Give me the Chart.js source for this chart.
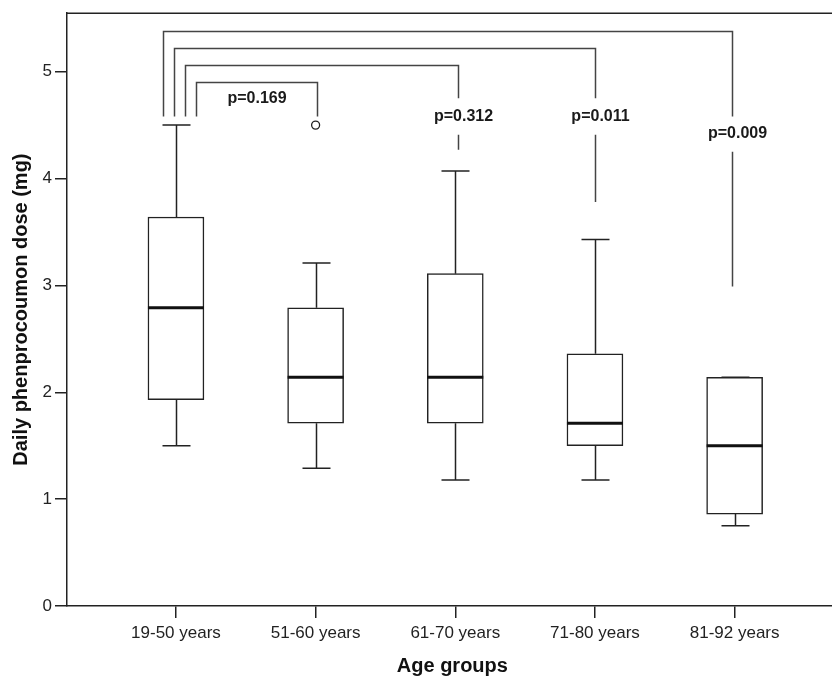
<!DOCTYPE html>
<html>
<head>
<meta charset="utf-8">
<script src="https://cdn.jsdelivr.net/npm/chart.js@4.4.1/dist/chart.umd.min.js"></script>
<style>
  html, body { margin: 0; padding: 0; background: #fff; overflow: hidden; }
  canvas { display: block; }
</style>
</head>
<body>
<canvas id="myChart" width="843" height="680"></canvas>
<script>
// box plot values
const groups = ['19-50 years', '51-60 years', '61-70 years', '71-80 years', '81-92 years'];
const whiskerLow = [1.5, 1.29, 1.18, 1.18, 0.75];
const q1 = [1.93, 1.71, 1.71, 1.5, 0.86];
const median = [2.79, 2.14, 2.14, 1.71, 1.5];
const q3 = [3.64, 2.79, 3.11, 2.36, 2.14];
const whiskerHigh = [4.5, 3.21, 4.07, 3.43, 2.14];
const outlierGroup = [2];
const outlierValue = [4.5];
const yTicks = [0, 1, 2, 3, 4, 5];
// group 1 compared with groups 2..5
const pLabels = ['p=0.169', 'p=0.312', 'p=0.011', 'p=0.009'];

const LINE = '#222';
const FONT = "'Liberation Sans', Arial, sans-serif";

const boxData = groups.map((g, i) => ({ x: i + 1, y: [q1[i], q3[i]] }));
const outlierData = outlierGroup.map((g, i) => ({ x: g, y: outlierValue[i] }));

// whiskers + medians + brackets
const boxExtras = {
    id: 'boxExtras',
    beforeDatasetsDraw(chart) {
        const ctx = chart.ctx;
        const xs = chart.scales.x, ys = chart.scales.y;
        ctx.save();
        ctx.strokeStyle = LINE;
        ctx.lineWidth = 1.5;
        groups.forEach((g, i) => {
            const cx = Math.round(xs.getPixelForValue(i + 1)) + 0.5;
            ctx.beginPath();
            ctx.moveTo(cx, ys.getPixelForValue(q3[i]));
            ctx.lineTo(cx, ys.getPixelForValue(whiskerHigh[i]));
            ctx.moveTo(cx, ys.getPixelForValue(q1[i]));
            ctx.lineTo(cx, ys.getPixelForValue(whiskerLow[i]));
            ctx.moveTo(cx - 14, ys.getPixelForValue(whiskerHigh[i]));
            ctx.lineTo(cx + 14, ys.getPixelForValue(whiskerHigh[i]));
            ctx.moveTo(cx - 14, ys.getPixelForValue(whiskerLow[i]));
            ctx.lineTo(cx + 14, ys.getPixelForValue(whiskerLow[i]));
            ctx.stroke();
        });
        ctx.restore();
    },
    afterDatasetsDraw(chart) {
        const ctx = chart.ctx;
        const xs = chart.scales.x, ys = chart.scales.y;
        const area = chart.chartArea;
        ctx.save();
        // medians
        ctx.strokeStyle = '#111';
        ctx.lineWidth = 3;
        groups.forEach((g, i) => {
            const cx = xs.getPixelForValue(i + 1);
            const my = ys.getPixelForValue(median[i]);
            ctx.beginPath();
            ctx.moveTo(cx - 28, my);
            ctx.lineTo(cx + 28, my);
            ctx.stroke();
        });

        // frame top line
        ctx.strokeStyle = LINE;
        ctx.lineWidth = 1.5;
        ctx.beginPath();
        ctx.moveTo(area.left, area.top);
        ctx.lineTo(area.right, area.top);
        ctx.stroke();

        // significance brackets
        const levels = [4.905, 5.064, 5.223, 5.382];
        const rightShift = [1, 3, 0, -3];
        const upperEnd = [4.58, 4.75, 4.75, 4.58];
        const lower = [null, [4.41, 4.27], [4.41, 3.78], [4.25, 2.99]];
        const labelY = [4.75, 4.577, 4.577, 4.42];
        const x1 = xs.getPixelForValue(1);
        ctx.strokeStyle = '#444';
        ctx.lineWidth = 1.5;
        ctx.fillStyle = '#1a1a1a';
        ctx.font = 'bold 16px ' + FONT;
        ctx.textAlign = 'center';
        ctx.textBaseline = 'middle';
        pLabels.forEach((p, i) => {
            const lx = Math.round(x1 + 20 - 11 * i) + 0.5;
            const rx = Math.round(xs.getPixelForValue(i + 2) + rightShift[i]) + 0.5;
            const ly = Math.round(ys.getPixelForValue(levels[i])) + 0.5;
            ctx.beginPath();
            ctx.moveTo(lx, ys.getPixelForValue(4.58));
            ctx.lineTo(lx, ly);
            ctx.lineTo(rx, ly);
            ctx.lineTo(rx, ys.getPixelForValue(upperEnd[i]));
            if (lower[i]) {
                ctx.moveTo(rx, ys.getPixelForValue(lower[i][0]));
                ctx.lineTo(rx, ys.getPixelForValue(lower[i][1]));
            }
            ctx.stroke();
            const tx = i === 0 ? (lx + rx) / 2 : rx + 5;
            ctx.fillText(p, tx, ys.getPixelForValue(labelY[i]));
        });
        ctx.restore();
    }
};

const ctx = document.getElementById('myChart').getContext('2d');
const myChart = new Chart(ctx, {
    type: 'bar',
    data: {
        datasets: [{
            data: boxData,
            backgroundColor: '#fff',
            borderColor: LINE,
            borderWidth: 1.5,
            borderSkipped: false,
            barThickness: 56
        }, {
            type: 'scatter',
            data: outlierData,
            pointRadius: 4,
            pointBackgroundColor: '#fff',
            pointBorderColor: LINE,
            pointBorderWidth: 1.3
        }]
    },
    options: {
        responsive: false,
        animation: false,
        layout: { padding: { top: 13, left: 0, right: 0, bottom: 0 } },
        plugins: { legend: { display: false }, tooltip: { enabled: false } },
        scales: {
            x: {
                type: 'linear',
                min: 0.22,
                max: 5.738,
                offset: false,
                afterBuildTicks: (scale) => { scale.ticks = groups.map((g, i) => ({ value: i + 1 })); },
                afterFit: (scale) => { scale.height = 74; },
                ticks: {
                    callback: (v) => groups[v - 1],
                    font: { family: FONT, size: 17 },
                    color: '#222',
                    padding: 5,
                    maxRotation: 0,
                    autoSkip: false
                },
                grid: { offset: false, drawOnChartArea: false, drawTicks: true, tickLength: 12, color: LINE, lineWidth: 1.5 },
                border: { display: true, color: LINE, width: 1.5 },
                title: {
                    display: true,
                    text: 'Age groups',
                    font: { family: FONT, size: 20, weight: 'bold' },
                    color: '#111',
                    padding: { top: 0, bottom: 2 }
                }
            },
            y: {
                min: 0,
                max: 5.547,
                afterBuildTicks: (scale) => { scale.ticks = yTicks.map(v => ({ value: v })); },
                afterFit: (scale) => { scale.width = 67; },
                ticks: {
                    font: { family: FONT, size: 17 },
                    color: '#222',
                    padding: 3
                },
                grid: { drawOnChartArea: false, drawTicks: true, tickLength: 12, color: LINE, lineWidth: 1.5 },
                border: { display: true, color: LINE, width: 1.5 },
                title: {
                    display: true,
                    text: 'Daily phenprocoumon dose (mg)',
                    font: { family: FONT, size: 20, weight: 'bold' },
                    color: '#111',
                    padding: { top: 9, bottom: 0 }
                }
            }
        }
    },
    plugins: [boxExtras]
});
</script>
</body>
</html>
